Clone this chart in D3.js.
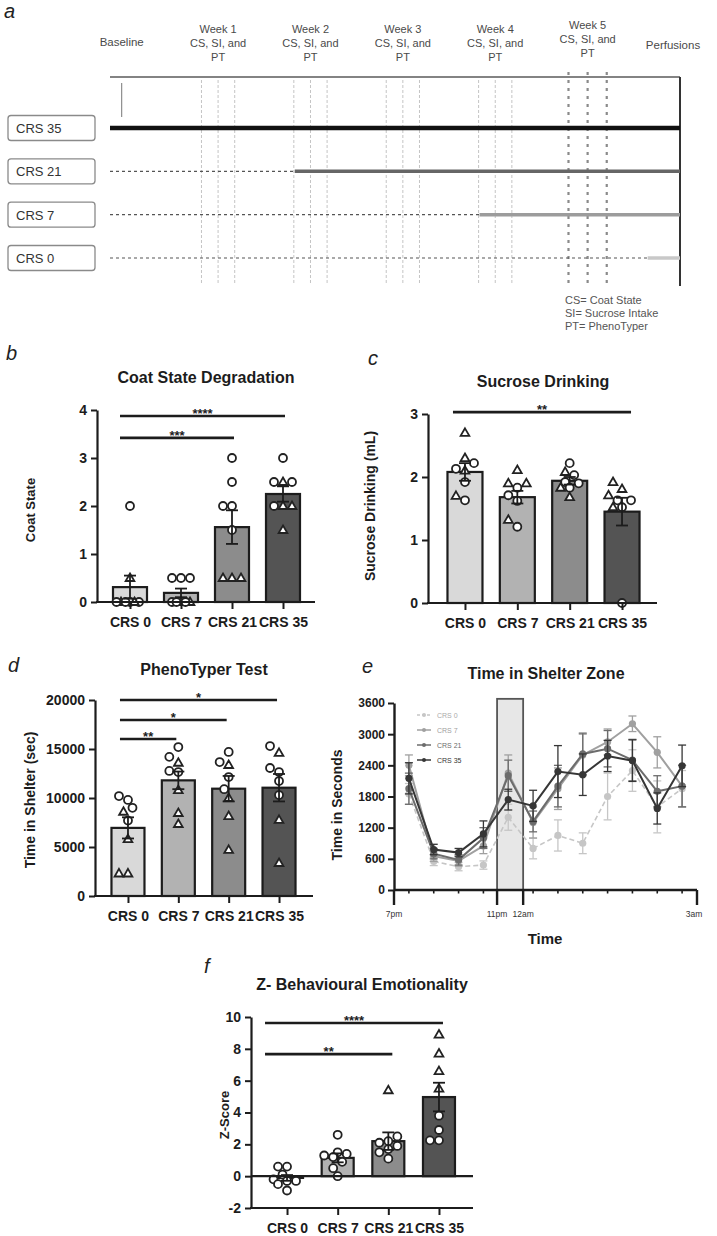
<!DOCTYPE html>
<html><head><meta charset="utf-8">
<script src="https://cdn.jsdelivr.net/npm/d3@7"></script>
<style>
body{margin:0;background:#fff}
svg{display:block}
text{font-family:"Liberation Sans",Arial,sans-serif}
</style>
</head><body>
<svg id="c" width="717" height="1236"></svg>
<script>
// ===================== DATA =====================
const groups = ["CRS 0", "CRS 7", "CRS 21", "CRS 35"];

// Panel a: timeline
const timelineGroups = ["CRS 35", "CRS 21", "CRS 7", "CRS 0"];
const stressStartWeek = [-0.17, 1.83, 3.83, 5.65];
const weekNumbers = [1, 2, 3, 4, 5];
const weekLabels = ["Week 1", "Week 2", "Week 3", "Week 4", "Week 5"];
const testOffsetsWeeks = [-0.18, 0, 0.18];
const timelineLegend = ["CS= Coat State", "SI= Sucrose Intake", "PT= PhenoTyper"];

// Panel b: Coat state
const coatMeans = [0.31, 0.19, 1.56, 2.25];
const coatSEM = [0.24, 0.09, 0.35, 0.16];
const coatPoints = [
  [2, 0.5, 0, 0, 0, 0, 0, 0],
  [0.5, 0.5, 0.5, 0, 0, 0, 0, 0],
  [3, 2.5, 2, 2, 1.5, 0.5, 0.5, 0.5],
  [3, 2.5, 2.5, 2.5, 2, 2, 2, 1.5]
];
const coatShapes = [
  ["o","t","o","t","o","o","t","o"],
  ["o","o","o","t","o","t","o","o"],
  ["o","o","o","o","o","t","t","t"],
  ["o","t","o","o","t","o","t","t"]
];
const coatTicks = [0, 1, 2, 3, 4];
const coatSig = [{a:0, b:3, v:3.875, t:"****"}, {a:0, b:2, v:3.42, t:"***"}];

// Panel c: Sucrose drinking
const sucMeans = [2.08, 1.68, 1.94, 1.45];
const sucSEM = [0.14, 0.10, 0.06, 0.22];
const sucPoints = [
  [2.70, 2.22, 2.30, 2.13, 2.10, 1.92, 1.63, 1.70],
  [2.11, 1.83, 1.90, 1.90, 1.71, 1.62, 1.21, 1.32],
  [2.22, 2.08, 2.03, 1.92, 1.90, 1.83, 1.83, 1.68],
  [1.92, 1.81, 1.71, 1.63, 1.63, 1.52, 1.52, 0]
];
const sucShapes = [
  ["t","o","t","o","t","o","o","t"],
  ["t","o","t","t","o","o","o","t"],
  ["o","t","o","o","o","o","t","t"],
  ["t","t","t","o","o","o","t","o"]
];
const sucTicks = [0, 1, 2, 3];
const sucSig = [{a:0, b:3, v:3.03, t:"**"}];

// Panel d: PhenoTyper
const phenoMeans = [6950, 11800, 10950, 11050];
const phenoSEM = [1080, 900, 1300, 1400];
const phenoPoints = [
  [9800, 10200, 9000, 8600, 7700, 5800, 2300, 2300],
  [15200, 14200, 12760, 13600, 12650, 10800, 8470, 7350],
  [14700, 13670, 13370, 12140, 10900, 10000, 8160, 4700],
  [14600, 15300, 12650, 13060, 11730, 10300, 7760, 3370]
];
const phenoShapes = [
  ["o","o","o","t","o","t","t","t"],
  ["o","o","o","t","o","t","t","t"],
  ["o","o","t","o","o","t","t","t"],
  ["t","o","o","o","o","o","t","t"]
];
const phenoTicks = [0, 5000, 10000, 15000, 20000];
const phenoSig = [{a:0, b:3, v:20000, t:"*"}, {a:0, b:2, v:17960, t:"*"}, {a:0, b:1, v:16020, t:"**"}];

// Panel e: Time in shelter zone (12 bins)
const shelterSeries = ["CRS 0", "CRS 7", "CRS 21", "CRS 35"];
const shelterCRS0  = [1850, 550, 450, 480, 1400, 800, 1050, 900, 1800, 2300, 1600, 1950];
const shelterCRS7  = [2400, 650, 560, 850, 2250, 1300, 1950, 2600, 2850, 3200, 2650, 2000];
const shelterCRS21 = [1950, 700, 580, 1000, 2200, 1320, 2000, 2620, 2720, 2500, 1900, 2000];
const shelterCRS35 = [2150, 780, 720, 1080, 1740, 1620, 2280, 2220, 2580, 2490, 1570, 2390];
const semCRS0  = [200, 80, 80, 80, 250, 200, 300, 200, 450, 400, 500, 350];
const semCRS7  = [200, 100, 100, 150, 350, 300, 400, 400, 250, 150, 300, 400];
const semCRS21 = [300, 100, 100, 200, 300, 200, 400, 400, 350, 400, 300, 400];
const semCRS35 = [300, 100, 80, 250, 200, 300, 500, 400, 300, 400, 300, 400];
const shelterYTicks = [0, 600, 1200, 1800, 2400, 3000, 3600];
const shelterTickLabels = ["7pm", "11pm", "12am", "3am"];
const shelterTickBins = [-0.6, 3.55, 4.6, 11.6];
const shelterWindow = [3.55, 4.6];

// Panel f: Z-score
const zMeans = [-0.11, 1.15, 2.2, 4.97];
const zSEM = [0.18, 0.28, 0.55, 0.9];
const zPoints = [
  [0.6, 0.6, 0.1, -0.2, -0.3, -0.3, -0.5, -0.9],
  [2.6, 1.5, 1.4, 1.3, 1.2, 0.9, 0.5, 0.0],
  [5.4, 2.5, 2.2, 2.1, 1.9, 1.7, 1.5, 1.1],
  [8.9, 7.7, 6.6, 5.5, 3.8, 2.9, 2.25, 2.25]
];
const zShapes = [
  ["o","o","o","o","o","o","o","o"],
  ["o","o","o","o","o","o","o","o"],
  ["t","o","o","o","o","o","o","o"],
  ["t","t","t","t","o","o","o","o"]
];
const zTicks = [-2, 0, 2, 4, 6, 8, 10];
const zSig = [{a:0, b:3, v:9.62, t:"****"}, {a:0, b:2, v:7.67, t:"**"}];

// ===================== STYLE =====================
const ink = "#1c1c1c";
const barColors = ["#d9d9d9", "#b2b2b2", "#8c8c8c", "#545454"];
const seriesColors = ["#c6c6c6", "#a0a0a0", "#6c6c6c", "#363636"];
const intFmt = d => String(Math.round(d));

const svg = d3.select("#c");

function letter(x, y, t) {
  svg.append("text").attr("x", x).attr("y", y).text(t)
    .attr("font-family", "'Open Sans','DejaVu Sans',sans-serif")
    .attr("font-style", "italic").attr("font-size", 20).attr("fill", "#222");
}
function title(x, y, t) {
  svg.append("text").attr("x", x).attr("y", y).attr("text-anchor", "middle")
    .attr("font-weight", "bold").attr("font-size", 16).attr("fill", ink).text(t);
}
function ylabel(x, y, t, fs) {
  svg.append("text").attr("transform", `translate(${x},${y}) rotate(-90)`)
    .attr("text-anchor", "middle").attr("dy", "0.35em")
    .attr("font-weight", "bold").attr("font-size", fs || 14).attr("fill", ink).text(t);
}

// ===================== PANEL A =====================
(function(){
  const g = svg.append("g");
  const wx = d3.scaleLinear().domain([-0.17, 6]).range([110, 680]);
  const ry = d3.scalePoint().domain(timelineGroups).range([128, 258]);
  letter(4, 18, "a");
  const lab = {fill: "#4a4a4a", size: 11};
  g.append("text").attr("x", wx(0) - 4).attr("y", 46).attr("text-anchor", "middle")
    .attr("font-size", 11.5).attr("fill", lab.fill).text("Baseline");
  weekNumbers.forEach((w, i) => {
    const yb = i === 4 ? 29 : 33;
    [weekLabels[i], "CS, SI, and", "PT"].forEach((t, k) => {
      g.append("text").attr("x", wx(w)).attr("y", yb + k * 14).attr("text-anchor", "middle")
        .attr("font-size", lab.size).attr("fill", lab.fill).text(t);
    });
  });
  g.append("text").attr("x", 673).attr("y", 49).attr("text-anchor", "middle")
    .attr("font-size", 11.5).attr("fill", lab.fill).text("Perfusions");

  weekNumbers.forEach((w, i) => {
    testOffsetsWeeks.forEach(o => {
      const last = i === 4;
      g.append("line").attr("x1", wx(w + o * (last ? 1.15 : 1))).attr("x2", wx(w + o * (last ? 1.15 : 1)))
        .attr("y1", last ? 72 : 80).attr("y2", 284)
        .attr("stroke", last ? "#8a8a8a" : "#c4c4c4")
        .attr("stroke-width", last ? 2.2 : 1)
        .attr("stroke-dasharray", last ? "3,5" : "3,2");
    });
  });
  g.append("line").attr("x1", wx(-0.17)).attr("x2", wx(6)).attr("y1", 77).attr("y2", 77)
    .attr("stroke", "#5a5a5a").attr("stroke-width", 1.6);
  g.append("line").attr("x1", wx(0) - 4).attr("x2", wx(0) - 4).attr("y1", 83).attr("y2", 117)
    .attr("stroke", "#777").attr("stroke-width", 1);
  g.append("line").attr("x1", wx(6)).attr("x2", wx(6)).attr("y1", 77).attr("y2", 286)
    .attr("stroke", "#333").attr("stroke-width", 2);

  const rowStyle = [
    {c: "#111", w: 4.5}, {c: "#666", w: 3.5}, {c: "#9c9c9c", w: 3.5}, {c: "#c8c8c8", w: 3.5}
  ];
  timelineGroups.forEach((grp, i) => {
    const yy = ry(grp);
    g.append("rect").attr("x", 8).attr("y", yy - 12.5).attr("width", 87).attr("height", 25).attr("rx", 3)
      .attr("fill", "#fff").attr("stroke", "#8a8a8a").attr("stroke-width", 1.3);
    g.append("text").attr("x", 16).attr("y", yy + 5).attr("font-size", 13).attr("fill", "#333").text(grp);
    if (stressStartWeek[i] > -0.17) {
      g.append("line").attr("x1", wx(-0.17)).attr("x2", wx(stressStartWeek[i])).attr("y1", yy).attr("y2", yy)
        .attr("stroke", "#555").attr("stroke-width", 1.2).attr("stroke-dasharray", "3,3");
    }
    g.append("line").attr("x1", wx(stressStartWeek[i])).attr("x2", wx(6)).attr("y1", yy).attr("y2", yy)
      .attr("stroke", rowStyle[i].c).attr("stroke-width", rowStyle[i].w);
  });
  timelineLegend.forEach((t, i) => {
    g.append("text").attr("x", 565).attr("y", 304 + i * 13).attr("font-size", 11).attr("fill", "#555").text(t);
  });
})();

// ===================== BAR PANELS =====================
function swarm(values, y, cx, diam, maxOff) {
  const idx = values.map((v, i) => i).sort((a, b) => values[a] - values[b]);
  const placed = [], xs = new Array(values.length);
  const h = diam / 2, cands = [0];
  for (let k = 1; k * h <= maxOff; k++) cands.push(-k * h, k * h);
  idx.forEach(i => {
    const yy = y(values[i]);
    let best = 0, bestScore = -Infinity;
    for (const c of cands) {
      let minD = Infinity;
      for (const p of placed) { const d = Math.hypot(p.x - c, p.y - yy); if (d < minD) minD = d; }
      if (minD >= diam) { best = c; break; }
      if (minD > bestScore) { bestScore = minD; best = c; }
    }
    placed.push({x: best, y: yy});
    xs[i] = cx + best;
  });
  return xs;
}
function marker(g, cx, cy, shape) {
  const m = shape === "t"
    ? g.append("path").attr("d", d3.symbol(d3.symbolTriangle, 33)()).attr("transform", `translate(${cx},${cy + 0.5})`)
    : g.append("circle").attr("cx", cx).attr("cy", cy).attr("r", 4);
  m.attr("fill", "#fff").attr("stroke", "#222").attr("stroke-width", 1.8);
}

function barPanel(c) {
  const g = svg.append("g");
  const y = d3.scaleLinear().domain(c.domain).range(c.yRange);
  const x = d3.scalePoint().domain(groups).range(c.band).padding(0.5);
  const base = y(0);
  g.selectAll("rect.bar").data(groups).join("rect").attr("class", "bar")
    .attr("x", d => x(d) - c.bw / 2)
    .attr("y", (d, i) => Math.min(y(c.means[i]), base))
    .attr("width", c.bw)
    .attr("height", (d, i) => Math.abs(y(c.means[i]) - base))
    .attr("fill", (d, i) => barColors[i]).attr("stroke", ink).attr("stroke-width", 2.2);
  groups.forEach((grp, i) => {
    const xs = swarm(c.points[i], y, x(grp), 9, 14);
    c.points[i].forEach((v, j) => marker(g, xs[j], y(c.points[i][j]), c.shapes[i][j]));
  });
  groups.forEach((grp, i) => {
    const lo = y(c.means[i] - c.sems[i]), hi = y(c.means[i] + c.sems[i]), cx = x(grp);
    g.append("line").attr("x1", cx).attr("x2", cx).attr("y1", lo).attr("y2", hi).attr("stroke", ink).attr("stroke-width", 1.8);
    [lo, hi].forEach(yy => g.append("line").attr("x1", cx - 6).attr("x2", cx + 6).attr("y1", yy).attr("y2", yy)
      .attr("stroke", ink).attr("stroke-width", 1.8));
  });
  const ya = g.append("g").attr("transform", `translate(${c.axisX},0)`)
    .call(d3.axisLeft(y).tickValues(c.ticks).tickSize(6).tickSizeOuter(0).tickPadding(4).tickFormat(intFmt));
  ya.select(".domain").attr("stroke", ink).attr("stroke-width", 2.2);
  ya.selectAll(".tick line").attr("stroke", ink).attr("stroke-width", 2);
  ya.selectAll(".tick text").attr("font-family", "'Liberation Sans',Arial,sans-serif")
    .attr("font-weight", "bold").attr("font-size", c.tickFs || 14).attr("fill", ink);
  const xa = g.append("g").attr("transform", `translate(0,${y(c.xAxisAt)})`)
    .call(d3.axisBottom(x).tickSize(7).tickPadding(8).tickSizeOuter(0));
  xa.select(".domain").remove();
  xa.selectAll(".tick line").attr("stroke", ink).attr("stroke-width", 2);
  xa.selectAll(".tick text").attr("font-family", "'Liberation Sans',Arial,sans-serif")
    .attr("font-weight", "bold").attr("font-size", 14).attr("fill", ink);
  g.append("line").attr("x1", c.axisX - 1).attr("x2", c.xEnd).attr("y1", y(c.xAxisAt)).attr("y2", y(c.xAxisAt))
    .attr("stroke", ink).attr("stroke-width", 2.2);
  if (c.zeroLine) {
    g.append("line").attr("x1", c.axisX).attr("x2", c.xEnd).attr("y1", base).attr("y2", base)
      .attr("stroke", ink).attr("stroke-width", 2.2);
  }
  c.sig.forEach(s => {
    const x1 = x(groups[s.a]) - c.padL, x2 = x(groups[s.b]) + c.padR, yy = y(s.v);
    g.append("line").attr("x1", x1).attr("x2", x2).attr("y1", yy).attr("y2", yy)
      .attr("stroke", ink).attr("stroke-width", 2.6);
    g.append("text").attr("x", (x1 + x2) / 2).attr("y", yy + 2).attr("text-anchor", "middle")
      .attr("font-weight", "bold").attr("font-size", 13).attr("fill", ink).text(s.t);
  });
}

letter(6, 360, "b");
title(206, 383, "Coat State Degradation");
ylabel(30, 510, "Coat State", 13);
barPanel({domain: [0, 4], yRange: [602, 410], band: [104.5, 308.5], bw: 34, axisX: 97, xEnd: 315, xAxisAt: 0,
  means: coatMeans, sems: coatSEM, points: coatPoints, shapes: coatShapes, ticks: coatTicks, sig: coatSig, padL: 10, padR: 2});

letter(368, 365, "c");
title(543, 387, "Sucrose Drinking");
ylabel(370, 506, "Sucrose Drinking (mL)", 14);
barPanel({domain: [0, 3], yRange: [603, 414], band: [438.8, 648.2], bw: 35, axisX: 428, xEnd: 657, xAxisAt: 0,
  means: sucMeans, sems: sucSEM, points: sucPoints, shapes: sucShapes, ticks: sucTicks, sig: sucSig, padL: 12, padR: 9});

letter(8, 672, "d");
title(204, 675, "PhenoTyper Test");
ylabel(30, 800, "Time in Shelter (sec)", 14);
barPanel({domain: [0, 20000], yRange: [896, 700], band: [102.8, 304.2], bw: 33, axisX: 95, xEnd: 313, xAxisAt: 0,
  means: phenoMeans, sems: phenoSEM, points: phenoPoints, shapes: phenoShapes, ticks: phenoTicks, sig: phenoSig, padL: 8, padR: -2});

letter(204, 973, "f");
title(362, 990, "Z- Behavioural Emotionality");
ylabel(224, 1115, "Z-Score", 13);
barPanel({domain: [-2, 10], yRange: [1208, 1017], band: [261.7, 464.3], bw: 32, axisX: 251, xEnd: 473, xAxisAt: -2, zeroLine: true,
  means: zMeans, sems: zSEM, points: zPoints, shapes: zShapes, ticks: zTicks, sig: zSig, padL: 22, padR: 4});

// ===================== PANEL E =====================
(function(){
  const g = svg.append("g");
  letter(362, 673, "e");
  title(546, 679, "Time in Shelter Zone");
  ylabel(337, 805, "Time in Seconds", 14);
  const ex = d3.scaleLinear().domain([-0.6, 11.6]).range([394, 697]);
  const ey = d3.scaleLinear().domain([0, 3600]).range([890, 703]);
  g.append("rect").attr("x", ex(shelterWindow[0])).attr("y", ey(3680))
    .attr("width", ex(shelterWindow[1]) - ex(shelterWindow[0])).attr("height", ey(0) - ey(3680))
    .attr("fill", "#e7e7e7").attr("stroke", "#555").attr("stroke-width", 1.8);
  const data = [shelterCRS0, shelterCRS7, shelterCRS21, shelterCRS35];
  const sems = [semCRS0, semCRS7, semCRS21, semCRS35];
  const line = d3.line().x((d, i) => ex(i)).y(d => ey(d));
  data.forEach((vals, s) => {
    const col = seriesColors[s];
    vals.forEach((v, i) => {
      const lo = ey(v - sems[s][i]), hi = ey(v + sems[s][i]);
      g.append("line").attr("x1", ex(i)).attr("x2", ex(i)).attr("y1", lo).attr("y2", hi).attr("stroke", col).attr("stroke-width", 1.3);
      [lo, hi].forEach(yy => g.append("line").attr("x1", ex(i) - 4).attr("x2", ex(i) + 4).attr("y1", yy).attr("y2", yy)
        .attr("stroke", col).attr("stroke-width", 1.3));
    });
    g.append("path").attr("d", line(vals)).attr("fill", "none").attr("stroke", col)
      .attr("stroke-width", s === 0 ? 1.6 : 2).attr("stroke-dasharray", s === 0 ? "5,3" : null);
    vals.forEach((v, i) => g.append("circle").attr("cx", ex(i)).attr("cy", ey(v)).attr("r", 3.6).attr("fill", col));
  });
  const ly = d3.scalePoint().domain(shelterSeries).range([715, 760]);
  shelterSeries.forEach((s, i) => {
    const yy = ly(s);
    g.append("line").attr("x1", 417).attr("x2", 431).attr("y1", yy).attr("y2", yy).attr("stroke", seriesColors[i])
      .attr("stroke-width", 1.5).attr("stroke-dasharray", i === 0 ? "3,2" : null);
    g.append("circle").attr("cx", 424).attr("cy", yy).attr("r", 2).attr("fill", seriesColors[i]);
    g.append("text").attr("x", 437).attr("y", yy + 2.5).attr("font-size", 7).attr("fill", i === 0 ? "#aaa" : seriesColors[i]).text(s);
  });
  const ya = g.append("g").attr("transform", `translate(${ex(-0.6)},0)`)
    .call(d3.axisLeft(ey).tickValues(shelterYTicks).tickSize(6).tickSizeOuter(0).tickPadding(3).tickFormat(intFmt));
  ya.select(".domain").attr("stroke", ink).attr("stroke-width", 2.4);
  ya.selectAll(".tick line").attr("stroke", ink).attr("stroke-width", 2);
  ya.selectAll(".tick text").attr("font-family", "'Liberation Sans',Arial,sans-serif")
    .attr("font-weight", "bold").attr("font-size", 12).attr("fill", ink);
  g.append("line").attr("x1", ex(-0.6)).attr("x2", ex(11.6)).attr("y1", ey(0)).attr("y2", ey(0))
    .attr("stroke", ink).attr("stroke-width", 2.4);
  d3.range(12).filter(i => i !== 4).forEach(i => {
    g.append("line").attr("x1", ex(i)).attr("x2", ex(i)).attr("y1", ey(0)).attr("y2", ey(0) + 3.5)
      .attr("stroke", ink).attr("stroke-width", 1.6);
  });
  shelterTickBins.forEach((b, i) => {
    g.append("line").attr("x1", ex(b)).attr("x2", ex(b)).attr("y1", ey(0)).attr("y2", ey(0) + 15)
      .attr("stroke", ink).attr("stroke-width", 2.4);
    g.append("text").attr("x", ex(b) + (i === 3 ? -3 : 0)).attr("y", 917).attr("text-anchor", "middle")
      .attr("font-size", 8.5).attr("fill", "#333").text(shelterTickLabels[i]);
  });
  g.append("text").attr("x", 545).attr("y", 944).attr("text-anchor", "middle")
    .attr("font-weight", "bold").attr("font-size", 15).attr("fill", ink).text("Time");
})();
</script>
</body></html>
